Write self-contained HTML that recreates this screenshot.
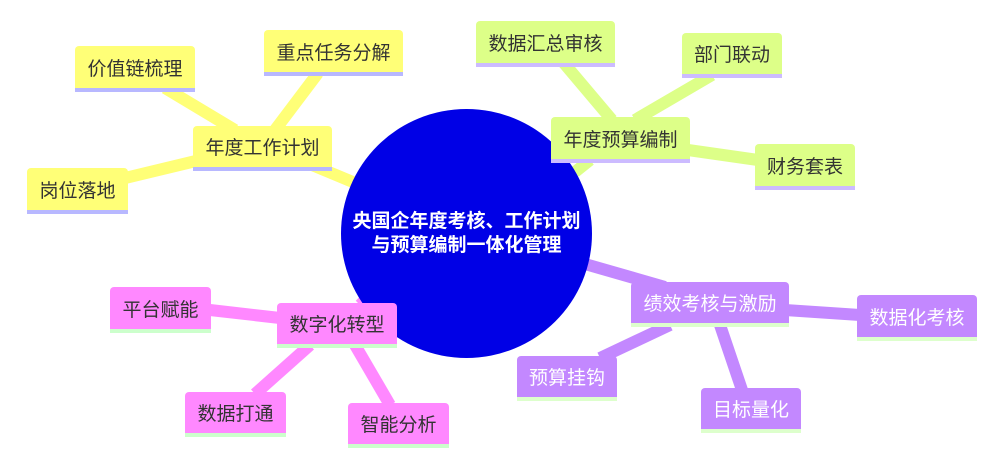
<!DOCTYPE html>
<html><head><meta charset="utf-8"><style>
body{margin:0;width:995px;height:462px;background:#fff;position:relative;overflow:hidden;font-family:"Liberation Sans","Noto Sans CJK SC",sans-serif}
.n{position:absolute;box-sizing:border-box;border-radius:4px 4px 0 0;display:flex;align-items:center;justify-content:center;font-size:19px;color:#333}
.y{background:#ffff77;border-bottom:4px solid #b8b8ff}
.g{background:#ddff88;border-bottom:4px solid #ccbbff}
.p{background:#c388ff;border-bottom:4px solid #ddffcc;color:#fff}
.k{background:#ff88ff;border-bottom:4px solid #ccffcc}
.c{position:absolute;left:341px;top:109px;width:251px;height:249px;border-radius:50%;background:#0000e6;color:#fff;font-weight:bold;font-size:19px;display:flex;align-items:center;justify-content:center;text-align:center;line-height:24px}
</style></head><body>
<svg width="995" height="462" style="position:absolute;left:0;top:0">
<g stroke-width="12" stroke-linecap="butt">
<line x1="300" y1="160" x2="360" y2="185" stroke="#ffff77"/>
<line x1="235" y1="130" x2="165" y2="88" stroke="#ffff77"/>
<line x1="275" y1="130" x2="318" y2="73" stroke="#ffff77"/>
<line x1="200" y1="160" x2="125" y2="178" stroke="#ffff77"/>
<line x1="590" y1="160" x2="575" y2="172" stroke="#ddff88"/>
<line x1="635" y1="120" x2="712" y2="75" stroke="#ddff88"/>
<line x1="612" y1="120" x2="563" y2="62" stroke="#ddff88"/>
<line x1="688" y1="150" x2="758" y2="160" stroke="#ddff88"/>
<line x1="585" y1="264" x2="665" y2="287" stroke="#c388ff"/>
<line x1="785" y1="310" x2="860" y2="315" stroke="#c388ff"/>
<line x1="670" y1="325" x2="600" y2="358" stroke="#c388ff"/>
<line x1="720" y1="325" x2="742" y2="390" stroke="#c388ff"/>
<line x1="360" y1="305" x2="375" y2="290" stroke="#ff88ff"/>
<line x1="210" y1="310" x2="280" y2="318" stroke="#ff88ff"/>
<line x1="310" y1="345" x2="255" y2="394" stroke="#ff88ff"/>
<line x1="355" y1="345" x2="390" y2="405" stroke="#ff88ff"/>
</g></svg>
<div class="c">央国企年度考核、工作计划<br>与预算编制一体化管理</div>
<div class="n y" style="left:193px;top:126px;width:139px;height:45px">年度工作计划</div>
<div class="n y" style="left:75px;top:46px;width:120px;height:46px">价值链梳理</div>
<div class="n y" style="left:264px;top:30px;width:139px;height:46px">重点任务分解</div>
<div class="n y" style="left:27px;top:168px;width:101px;height:46px">岗位落地</div>
<div class="n g" style="left:476px;top:21px;width:139px;height:46px">数据汇总审核</div>
<div class="n g" style="left:682px;top:33px;width:100px;height:45px">部门联动</div>
<div class="n g" style="left:551px;top:117px;width:139px;height:46px">年度预算编制</div>
<div class="n g" style="left:755px;top:144px;width:100px;height:46px">财务套表</div>
<div class="n p" style="left:631px;top:282px;width:158px;height:45px">绩效考核与激励</div>
<div class="n p" style="left:857px;top:295px;width:120px;height:46px">数据化考核</div>
<div class="n p" style="left:517px;top:356px;width:100px;height:45px">预算挂钩</div>
<div class="n p" style="left:701px;top:388px;width:100px;height:45px">目标量化</div>
<div class="n k" style="left:277px;top:303px;width:120px;height:45px">数字化转型</div>
<div class="n k" style="left:110px;top:287px;width:101px;height:46px">平台赋能</div>
<div class="n k" style="left:185px;top:392px;width:101px;height:45px">数据打通</div>
<div class="n k" style="left:348px;top:403px;width:101px;height:45px">智能分析</div>
</body></html>
